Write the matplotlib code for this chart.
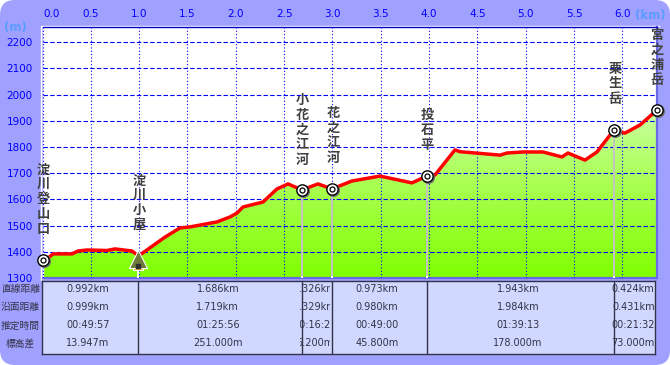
import numpy as np
from matplotlib import pyplot as plt
from matplotlib.colors import LinearSegmentedColormap
from matplotlib.patches import FancyBboxPatch
from matplotlib.transforms import offset_copy, ScaledTranslation

plt.rcParams['font.family'] = ['DejaVu Sans']
JP = ['Noto Sans CJK JP', 'DejaVu Sans']

W, H = 670, 365

#route profile
dist_km = [0, .057, .109, .305, .367, .46, .667, .75, .926, .993, 1.267, 1.422, 1.526,
           1.805, 1.94, 2.012, 2.074, 2.281, 2.426, 2.54, 2.684, 2.85, 2.995, 3.2, 3.491,
           3.822, 3.977, 4.06, 4.267, 4.319, 4.733, 4.805, 4.97, 5.177, 5.374, 5.436,
           5.612, 5.736, 5.912, 6.026, 6.181, 6.357]
elev_m = [1369, 1376, 1392, 1392, 1403, 1407, 1405, 1411, 1403, 1384, 1456, 1491, 1495,
          1514, 1533, 1548, 1571, 1590, 1640, 1659, 1636, 1659, 1640, 1670, 1689,
          1663, 1689, 1693, 1789, 1782, 1769, 1777, 1781, 1781, 1762, 1777,
          1750, 1781, 1865, 1853, 1884, 1941]

#waypoints
way_names = ['淀川登山口', '淀川小屋', '小花之江河', '花之江河', '投石平', '栗生岳', '宮之浦岳']
way_km = [0, .993, 2.684, 2.995, 3.977, 5.912, 6.357]
way_m = [1369, 1384, 1636, 1640, 1689, 1865, 1941]
#top and bottom pixel of each name
way_label_top = [162, 173, 93, 106, 108, 61, 28]
way_label_bottom = [236, 232, 167, 165, 152, 106, 87]
way_label_x = [43, 139.5, 302.5, 333, 427, 615, 657]

#table under the chart
row_names = ['直線距離', '沿面距離', '推定時間', '標高差']
straight = ['0.992km', '1.686km', '0.326km', '0.973km', '1.943km', '0.424km']
surface = ['0.999km', '1.719km', '0.329km', '0.980km', '1.984km', '0.431km']
times = ['00:49:57', '01:25:56', '00:16:29', '00:49:00', '01:39:13', '00:21:32']
height_diff = ['13.947m', '251.000m', '5.200m', '45.800m', '178.000m', '73.000m']

x_ticks = [0, .5, 1, 1.5, 2, 2.5, 3, 3.5, 4, 4.5, 5, 5.5, 6]
y_ticks = [1300, 1400, 1500, 1600, 1700, 1800, 1900, 2000, 2100, 2200]

BLUE = '#0000ff'
DARK = '#333348'


def px_axes(left, top, right, bottom):
    return fig.add_axes([left / W, 1 - bottom / H, (right - left) / W, (bottom - top) / H])


fig = plt.figure(figsize=(6.7, 3.65), dpi=100, facecolor='white')

#rounded lavender panel
bg = fig.add_axes([0, 0, 1, 1])
bg.set_xlim(0, W)
bg.set_ylim(H, 0)
bg.axis('off')
bg.add_patch(FancyBboxPatch((0, 0), W, H, boxstyle='round,pad=0,rounding_size=15',
                            fc='#a0a0ff', ec='none'))
#white keyline round the plot
bg.plot([40.5, 40.5, 659], [279.5, 25.5, 25.5], color='white', lw=1)

ax = px_axes(42.5, 27, 657, 278)
ax.set_facecolor('white')

#gradient fill under the profile
cmap = LinearSegmentedColormap.from_list('fill', ['#80ff00', '#a8ff50', '#d0ffb0'])
img = ax.imshow(np.linspace(1, 0, 256).reshape(-1, 1), cmap=cmap, aspect='auto',
                extent=(0, 6.357, 1300, 2000), zorder=1)
poly = ax.fill_between(dist_km, elev_m, 1300, color='none', zorder=1)
img.set_clip_path(poly.get_paths()[0], transform=ax.transData)
ax.set_xlim(0, 6.357)
ax.set_ylim(1300, 2258)

#grid
ax.set_xticks(x_ticks)
ax.set_yticks(y_ticks)
ax.set_xticklabels(['%.1f' % v for v in x_ticks], color=BLUE, fontsize=7.5)
ax.set_yticklabels([str(v) for v in y_ticks], color=BLUE, fontsize=7.5)
ax.tick_params(length=0, top=True, bottom=False, labeltop=True, labelbottom=False, pad=6)
ax.tick_params(axis='y', pad=7)
ax.grid(True, axis='x', color=BLUE, lw=.8, ls=(0, (1, 2)), zorder=2)
ax.grid(True, axis='y', color=BLUE, lw=.8, ls=(0, (4, 2)), zorder=2)
ax.set_axisbelow(False)
for side, col, lw in [('top', '#0000c0', 1), ('left', 'white', 1), ('right', '#6a6ae8', 1.6),
                      ('bottom', '#6a6ae8', 1.6)]:
    ax.spines[side].set_color(col)
    ax.spines[side].set_linewidth(lw)
ax.axvline(0, color=BLUE, lw=.8, ls=(0, (1, 2)), zorder=2)
#first km label sits to the right of its line
first = ax.get_xticklabels()[0]
first.set_transform(first.get_transform() + ScaledTranslation(9 / 100, 0, fig.dpi_scale_trans))

#stems from the waypoints
for i in range(1, len(way_km) - 1):
    stem = 'white' if i == 1 else '#c4c4c4'
    ax.vlines(way_km[i], 1300, way_m[i], color=stem, lw=1.4, zorder=3)
    ax.vlines(way_km[i], 1300, 1308, color='white', lw=1.4, zorder=3)

ax.plot(dist_km, elev_m, color='#ff0000', lw=2.5, zorder=4, solid_joinstyle='round')

#waypoint markers
circle_km = [way_km[i] for i in range(len(way_km)) if i != 1]
circle_m = [way_m[i] for i in range(len(way_km)) if i != 1]
shadow = offset_copy(ax.transData, fig=fig, x=1.0, y=-1.0, units='points')
ax.scatter(circle_km, circle_m, s=70, color='#707070', transform=shadow, zorder=5, clip_on=False)
ax.scatter(circle_km, circle_m, s=66, fc='white', ec='black', lw=1, zorder=6, clip_on=False)
ax.scatter(circle_km, circle_m, s=13, fc='white', ec='black', lw=0.9, zorder=7, clip_on=False)

#hut icon
ax.scatter(way_km[1], way_m[1] - 36, s=55, marker='s', fc='#e89020', ec='white', lw=.8, zorder=5)
ax.scatter(way_km[1], way_m[1] - 10, s=170, marker='^', fc='#6f7a3a', ec='white', lw=.8, zorder=6)
ax.scatter(way_km[1], way_m[1] - 38, s=10, marker='s', color='#303030', zorder=7)

#unit labels
bg.text(15.5, 27, '(m)', color='#5c9cff', fontsize=8.5, ha='center', va='center', fontweight='bold')
bg.text(650, 16, '(km)', color='#5c9cff', fontsize=8.5, ha='center', va='center', fontweight='bold')

#vertical waypoint names, one glyph at a time
top_ax = fig.add_axes([0, 0, 1, 1], zorder=10)
top_ax.set_xlim(0, W)
top_ax.set_ylim(H, 0)
top_ax.axis('off')
for name, x, y0, y1 in zip(way_names, way_label_x, way_label_top, way_label_bottom):
    step = (y1 - y0) / len(name)
    for k, ch in enumerate(name):
        top_ax.text(x, y0 + step * (k + .5), ch, family=JP, fontsize=9.5, color='#404040',
                    ha='center', va='center', fontweight='bold')

#table
tb = px_axes(42, 281, 655, 354)
tb.set_facecolor('#d0d8ff')
tb.set_xlim(0, 6.34)
tb.set_ylim(4, 0)
tb.set_xticks([])
tb.set_yticks([])
for s in tb.spines.values():
    s.set_color(DARK)
    s.set_linewidth(1)
edges = way_km
tb.vlines(edges[1:-1], 0, 4, color=DARK, lw=1)
rows = [straight, surface, times, height_diff]
for r, row in enumerate(rows):
    y = r + .42
    for c, label in enumerate(row):
        left, right = edges[c] - .02, min(edges[c + 1] - .02, 6.34)
        t = tb.text((left + right) / 2, y, label, color=DARK, fontsize=7, ha='center', va='center')
        t.set_clip_on(True)
        t.set_clip_path(plt.Rectangle((left, 0), right - left, 4, transform=tb.transData))
    bg.text(20.5, 289 + r * 18.2, row_names[r], family=JP, color=DARK, fontsize=7, ha='center', va='center')

fig.savefig('out.png', dpi=100)
